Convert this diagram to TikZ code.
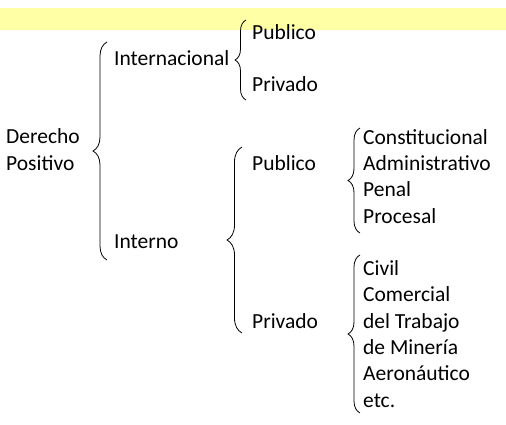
\documentclass[tikz,border=0pt]{standalone}
\usepackage{fontspec}
\setmainfont{Carlito}
\usepackage{tikz}
\usetikzlibrary{decorations.pathreplacing, positioning}
\definecolor{banda}{RGB}{255,255,166}

\begin{document}
\begin{tikzpicture}[
    x=1pt, y=-1pt,
    rama/.style={anchor=base west, inner sep=0pt, align=left, font=\fontsize{21.5}{26.3}\selectfont},
    llave/.style={decorate, decoration={brace, amplitude=#1}, line width=0.8pt}
]
\useasboundingbox (0,0) rectangle (506,424);

% Franja amarilla
\fill[banda] (0,8) rectangle (506,30);

% Raiz
\node[rama] (positivo) at (6,170) {Derecho\\Positivo};

% Primer nivel
\node[rama] (internacional) at (114,65) {Internacional};
\node[rama] (interno) at (114,248) {Interno};

% Segundo nivel
\node[rama] (pubinter) at (252,39) {Publico};
\node[rama] (privinter) at (252,91) {Privado};
\node[rama] (pubinterno) at (252,170) {Publico};
\node[rama] (privinterno) at (252,328) {Privado};

% Ramas del derecho interno
\node[rama] (ramaspub) at (363,223) {Constitucional\\Administrativo\\Penal\\Procesal};
\node[rama] (ramaspriv) at (363,407) {Civil\\Comercial\\del Trabajo\\de Minería\\Aeronáutico\\etc.};

% Puntas de las llaves
\coordinate (raizabajo) at (107,260);
\coordinate (raizarriba) at (107,42);
\coordinate (interabajo) at (246,100);
\coordinate (interarriba) at (246,20);
\coordinate (internoabajo) at (242,333);
\coordinate (internoarriba) at (242,147);
\coordinate (pubabajo) at (360,233);
\coordinate (pubarriba) at (360,128);
\coordinate (privabajo) at (360,413);
\coordinate (privarriba) at (360,255);

% Llaves
\draw[llave=14pt] (raizabajo) -- (raizarriba);
\draw[llave=11pt] (interabajo) -- (interarriba);
\draw[llave=15pt] (internoabajo) -- (internoarriba);
\draw[llave=12pt] (pubabajo) -- (pubarriba);
\draw[llave=12pt] (privabajo) -- (privarriba);

\end{tikzpicture}
\end{document}
